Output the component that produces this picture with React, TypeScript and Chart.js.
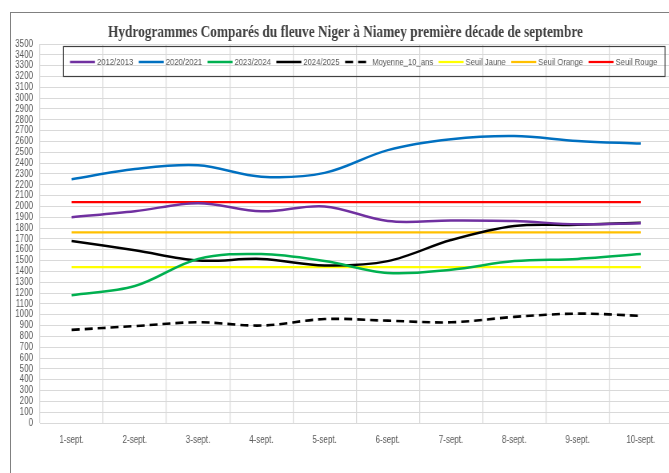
import React, { useEffect, useRef } from "react";
import { Chart, registerables } from "chart.js";

Chart.register(...registerables);

const TITLE = "Hydrogrammes Comparés du fleuve Niger à Niamey première décade de septembre";

const categories = [
  "1-sept.", "2-sept.", "3-sept.", "4-sept.", "5-sept.",
  "6-sept.", "7-sept.", "8-sept.", "9-sept.", "10-sept.",
];

const s2012 = [1900, 1955, 2030, 1955, 2000, 1865, 1870, 1865, 1835, 1845];
const s2020 = [2250, 2345, 2380, 2275, 2310, 2520, 2620, 2650, 2605, 2580];
const s2023 = [1180, 1265, 1515, 1560, 1495, 1385, 1415, 1495, 1515, 1560];
const s2024 = [1680, 1595, 1500, 1515, 1455, 1495, 1690, 1820, 1830, 1850];
const moyenne = [860, 895, 930, 900, 960, 945, 930, 980, 1010, 990];
const seuilJaune = [1440, 1440, 1440, 1440, 1440, 1440, 1440, 1440, 1440, 1440];
const seuilOrange = [1760, 1760, 1760, 1760, 1760, 1760, 1760, 1760, 1760, 1760];
const seuilRouge = [2040, 2040, 2040, 2040, 2040, 2040, 2040, 2040, 2040, 2040];

const Y_MIN = 0;
const Y_MAX = 3500;
const Y_STEP = 100;

// horizontal condensation factor (the original uses a narrow font)
const K = 0.8;
const CSS_W = 690;
const CSS_H = 473;
const LOGICAL_W = Math.round(CSS_W / K);

const SANS = "'Liberation Sans', Arial, sans-serif";
const SERIF = "'Liberation Serif', 'DejaVu Serif', serif";

const overlayPlugin = {
  id: "overlay",
  afterDraw(chart: any) {
    const ctx = chart.ctx as CanvasRenderingContext2D;
    ctx.save();
    // Title
    ctx.font = `bold 16px ${SERIF}`;
    ctx.fillStyle = "#404040";
    ctx.textBaseline = "alphabetic";
    ctx.textAlign = "left";
    const tw = ctx.measureText(TITLE).width;
    const targetW = 475 / K;
    ctx.save();
    ctx.translate(108 / K, 37);
    ctx.scale(targetW / tw, 1);
    ctx.fillText(TITLE, 0, 0);
    ctx.restore();

    // Legend box
    ctx.strokeStyle = "#404040";
    ctx.lineWidth = 1.2;
    ctx.strokeRect(63.5 / K, 46.5, 601.5 / K, 30);

    // Legend items
    ctx.font = `9.6px ${SANS}`;
    ctx.fillStyle = "#595959";
    ctx.textBaseline = "middle";
    let x = 70 / K;
    const y = 62;
    chart.data.datasets.forEach((ds: any) => {
      ctx.save();
      ctx.strokeStyle = ds.borderColor;
      ctx.lineWidth = ds.borderWidth;
      ctx.setLineDash(ds.borderDash || []);
      ctx.beginPath();
      ctx.moveTo(x, y);
      ctx.lineTo(x + 25 / K, y);
      ctx.stroke();
      ctx.restore();
      ctx.fillText(ds.label, x + 2 / K + 25 / K, y);
      x += 27 / K + ctx.measureText(ds.label).width + 5.5 / K;
    });
    ctx.restore();
  },
};

function line(label: string, data: number[], color: string, width = 2.5, dash: number[] = []) {
  return {
    label,
    data,
    borderColor: color,
    backgroundColor: color,
    borderWidth: width,
    borderDash: dash,
    pointRadius: 0,
    pointHoverRadius: 0,
    tension: 0.35,
    fill: false,
  };
}

export default function App() {
  const ref = useRef<HTMLCanvasElement>(null);
  useEffect(() => {
    const chart = new Chart(ref.current!, {
      type: "line",
      data: {
        labels: categories,
        datasets: [
          line("2012/2013", s2012, "#7030A0"),
          line("2020/2021", s2020, "#0070C0"),
          line("2023/2024", s2023, "#00B050"),
          line("2024/2025", s2024, "#000000"),
          line("Moyenne_10_ans", moyenne, "#000000", 2.6, [8 / K, 5 / K]),
          line("Seuil Jaune", seuilJaune, "#FFFF00", 2.25),
          line("Seuil Orange", seuilOrange, "#FFC000", 2.25),
          line("Seuil Rouge", seuilRouge, "#FF0000", 2.25),
        ],
      },
      options: {
        responsive: false,
        animation: false,
        layout: { padding: { left: 0, top: 44, right: 18 / K, bottom: 0 } },
        plugins: {
          legend: { display: false },
          title: { display: false },
          tooltip: { enabled: false },
        },
        scales: {
          x: {
            type: "category",
            offset: true,
            grid: { offset: true, color: "#d9d9d9", drawTicks: false, lineWidth: 1 / K },
            border: { display: true, color: "#d9d9d9" },
            ticks: {
              color: "#595959",
              font: { family: SANS, size: 10 },
              padding: 11,
              maxRotation: 0,
              autoSkip: false,
            },
            afterFit: (s: any) => { s.height = 50; },
          },
          y: {
            min: Y_MIN,
            max: Y_MAX,
            ticks: {
              stepSize: Y_STEP,
              autoSkip: false,
              color: "#595959",
              font: { family: SANS, size: 10 },
              padding: 7 / K,
              callback: (v: any) => String(v),
            },
            grid: { color: "#d9d9d9", drawTicks: false, lineWidth: 1 },
            border: { display: false },
            afterFit: (s: any) => { s.width = 40 / K; },
          },
        },
      },
      plugins: [overlayPlugin],
    } as any);
    return () => chart.destroy();
  }, []);

  return (
    <div style={{ position: "fixed", left: 0, top: 0, width: 669, height: 473, overflow: "hidden", background: "#fff" }}>
      <div style={{ position: "absolute", left: 10, top: 12, width: 700, height: 500, borderLeft: "1px solid #808080", borderTop: "1px solid #808080" }} />
      <div style={{ position: "absolute", left: 0, top: 0, width: LOGICAL_W, height: CSS_H, transform: `scaleX(${K})`, transformOrigin: "0 0" }}>
        <canvas ref={ref} width={LOGICAL_W} height={CSS_H} style={{ display: "block", width: LOGICAL_W, height: CSS_H }} />
      </div>
    </div>
  );
}
